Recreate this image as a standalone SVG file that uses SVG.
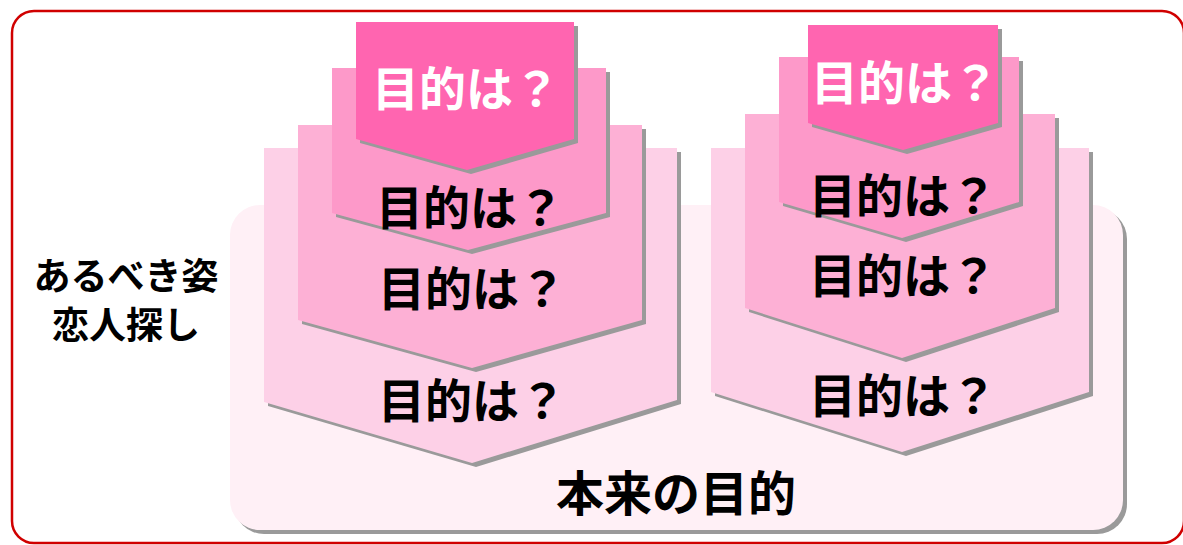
<svg xmlns="http://www.w3.org/2000/svg" width="1183" height="545" viewBox="0 0 1183 545">
<style>
.sh{fill:#9a9a9a}
.c1{fill:#fdd0e7}
.c2{fill:#fdb0d5}
.c3{fill:#fd99c9}
.c4{fill:#ff65b0}
.t{font-family:"Noto Sans CJK JP","Noto Sans",sans-serif;font-weight:bold;text-anchor:middle;dominant-baseline:central}
.w{fill:#ffffff;font-size:47px}
.b{fill:#000000;font-size:47px}
</style>
<rect x="12" y="11" width="1172" height="532" rx="22" fill="#ffffff" stroke="#d00000" stroke-width="2.5"/>
<g id="base">
<rect x="234" y="209" width="893" height="325" rx="30" class="sh"/>
<rect x="230" y="205" width="893" height="325" rx="30" fill="#fff0f6"/>
<text class="t b" x="676" y="490" style="font-size:48px">本来の目的</text>
</g>
<g id="label">
<text class="t" x="126" y="274" style="font-size:37px;fill:#000">あるべき姿<tspan x="126" dy="49">恋人探し</tspan></text>
</g>
<g id="left-stack">
<g id="L1">
<polygon class="sh" points="268,152 681,152 681,404 476,467 268,406"/>
<polygon class="c1" points="264,148 677,148 677,400 472,463 264,402"/>
<text class="t b" x="472" y="397">目的は？</text>
</g>
<g id="L2">
<polygon class="sh" points="302,129 646,129 646,324 476,372 302,324"/>
<polygon class="c2" points="298,125 642,125 642,320 472,368 298,320"/>
<text class="t b" x="472" y="285">目的は？</text>
</g>
<g id="L3">
<polygon class="sh" points="336,72 610,72 610,217 472,254 336,217"/>
<polygon class="c3" points="332,68 606,68 606,213 468,250 332,213"/>
<text class="t b" x="470" y="204">目的は？</text>
</g>
<g id="L4">
<polygon class="sh" points="360,26 578,26 578,143 471,174 360,143"/>
<polygon class="c4" points="356,22 574,22 574,139 467,170 356,139"/>
<text class="t w" x="466" y="85">目的は？</text>
</g>
</g>
<g id="right-stack">
<g id="R1">
<polygon class="sh" points="715,152 1093,152 1093,396 906,456 715,396"/>
<polygon class="c1" points="711,148 1089,148 1089,392 902,452 711,392"/>
<text class="t b" x="903" y="392">目的は？</text>
</g>
<g id="R2">
<polygon class="sh" points="749,118 1059,118 1059,312 906,362 749,312"/>
<polygon class="c2" points="745,114 1055,114 1055,308 902,358 745,308"/>
<text class="t b" x="903" y="272">目的は？</text>
</g>
<g id="R3">
<polygon class="sh" points="783,61 1023,61 1023,206 906,242 783,206"/>
<polygon class="c3" points="779,57 1019,57 1019,202 902,238 779,202"/>
<text class="t b" x="903" y="192">目的は？</text>
</g>
<g id="R4">
<polygon class="sh" points="812,29 1002,29 1002,127 907,154 812,127"/>
<polygon class="c4" points="808,25 998,25 998,123 903,150 808,123"/>
<text class="t w" x="905" y="79">目的は？</text>
</g>
</g>
</svg>
